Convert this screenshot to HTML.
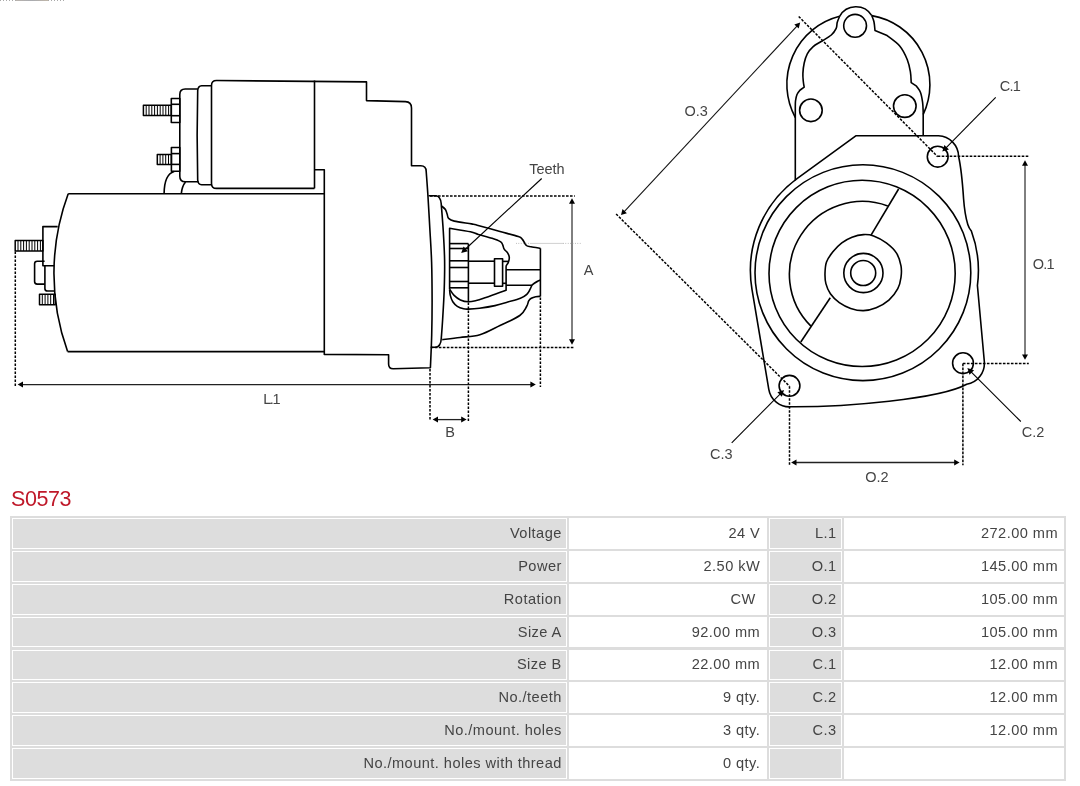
<!DOCTYPE html>
<html><head><meta charset="utf-8"><title>S0573</title>
<style>
html,body{margin:0;padding:0;background:#fff;overflow:hidden;}
body{width:1080px;height:786px;position:relative;overflow:hidden;font-family:"Liberation Sans",sans-serif;}
svg.dw{position:absolute;left:0;top:0;}
svg.dw text{font-family:"Liberation Sans",sans-serif;}
h1{position:absolute;left:11px;top:487px;margin:0;font-weight:normal;font-size:21.5px;line-height:24px;color:#bf1829;letter-spacing:-0.45px;will-change:transform;}
.tb{position:absolute;left:10px;top:516px;width:1056px;height:265px;background:#dddddd;}
.c{position:absolute;border:1px solid #fff;box-sizing:content-box;font-size:14.6px;color:#444;text-align:right;}
.c span{position:absolute;right:6px;top:5.9px;white-space:nowrap;letter-spacing:0.45px;}
.l{background:#dddddd;}
.v{background:#fff;}
.gs{position:absolute;left:0;top:0;width:1080px;height:786px;filter:grayscale(1);}
.art{position:absolute;left:0;top:0;width:64px;height:1px;background:repeating-linear-gradient(90deg,#aaa 0 1px,#fff 1px 3px);}
.art2{position:absolute;left:16px;top:0;width:32px;height:1px;background:linear-gradient(90deg,#b9b3ad,#a9abb0 50%,#c0b6a8);}
</style></head><body>
<div class="art"></div><div class="art2"></div>
<div class="gs">
<svg class="dw" width="1080" height="500" viewBox="0 0 1080 500"><g fill="none" stroke="#000" stroke-linejoin="round">
<path d="M 314.5,188.4 L 216.5,188.4 Q 211.5,188.4 211.5,183.4 L 211.5,85.5 Q 211.5,80.5 216.5,80.5 L 366.5,81.9 L 366.5,100.6 L 405.5,101.6 Q 411.5,101.8 411.5,108 L 411.5,165.8 L 420.8,165.8 Q 426.2,165.9 426.2,171.5 L 426.2,171.5 C 426.48,175.45 427.3,185.78 427.9,195.2 C 428.5,204.62 429.18,216.87 429.8,228 C 430.42,239.13 431.22,250 431.6,262 C 431.98,274 432.08,287.83 432.1,300 C 432.12,312.17 431.98,323.7 431.7,335 C 431.42,346.3 430.62,362.33 430.4,367.8 L 393.2,368.7 Q 388.6,368.7 388.6,364 L 388.6,354.8 L 324.3,354.4 L 324.3,169.8 L 314.5,169.8" stroke-width="1.6"/>
<line x1="314.5" y1="80.5" x2="314.5" y2="188.4" stroke-width="1.6"/>
<path d="M 211.5,85.7 L 201.6,85.7 Q 198,86 197.7,90.5 Q 196.6,135 197.7,180 Q 198,184.6 201.6,184.8 L 211.5,184.8" stroke-width="1.6"/>
<path d="M 197.8,89 L 185.2,89 Q 179.8,89 179.8,94.5 L 179.8,176.2 Q 179.8,181.8 185.2,181.8 L 198.6,181.8" stroke-width="1.6"/>
<rect x="171.3" y="98.5" width="8.5" height="24" stroke-width="1.6"/>
<line x1="171.3" y1="104.3" x2="179.8" y2="104.3" stroke-width="1.6"/>
<line x1="171.3" y1="115.7" x2="179.8" y2="115.7" stroke-width="1.6"/>
<rect x="171.4" y="147.5" width="8.4" height="23.8" stroke-width="1.6"/>
<line x1="171.4" y1="153.6" x2="179.8" y2="153.6" stroke-width="1.6"/>
<line x1="171.4" y1="164.4" x2="179.8" y2="164.4" stroke-width="1.6"/>
<rect x="143.4" y="105.3" width="27.9" height="10.2" stroke-width="1.5"/>
<line x1="146.2" y1="105.3" x2="146.2" y2="115.5" stroke-width="1"/>
<line x1="149" y1="105.3" x2="149" y2="115.5" stroke-width="1"/>
<line x1="151.8" y1="105.3" x2="151.8" y2="115.5" stroke-width="1"/>
<line x1="154.6" y1="105.3" x2="154.6" y2="115.5" stroke-width="1"/>
<line x1="157.4" y1="105.3" x2="157.4" y2="115.5" stroke-width="1"/>
<line x1="160.2" y1="105.3" x2="160.2" y2="115.5" stroke-width="1"/>
<line x1="163" y1="105.3" x2="163" y2="115.5" stroke-width="1"/>
<line x1="165.8" y1="105.3" x2="165.8" y2="115.5" stroke-width="1"/>
<line x1="168.6" y1="105.3" x2="168.6" y2="115.5" stroke-width="1"/>
<rect x="157.3" y="154.4" width="14.1" height="10.2" stroke-width="1.5"/>
<line x1="160.1" y1="154.4" x2="160.1" y2="164.6" stroke-width="1"/>
<line x1="162.9" y1="154.4" x2="162.9" y2="164.6" stroke-width="1"/>
<line x1="165.7" y1="154.4" x2="165.7" y2="164.6" stroke-width="1"/>
<line x1="168.5" y1="154.4" x2="168.5" y2="164.6" stroke-width="1"/>
<path d="M 164.1,193.6 C 164.2,183 166.8,173.5 174.2,171.4" stroke-width="1.6"/>
<path d="M 181.3,193.6 C 181.8,188.5 183,185 185.5,182" stroke-width="1.6"/>
<line x1="68.2" y1="193.8" x2="324.3" y2="193.8" stroke-width="1.6"/>
<line x1="67.6" y1="351.6" x2="324.3" y2="351.6" stroke-width="1.6"/>
<path d="M 68.2,193.8 A 230 230 0 0 0 67.6,351.6" stroke-width="1.6"/>
<path d="M 57.7,226.6 L 42.9,226.6 L 42.9,265.8 L 54.2,265.8" stroke-width="1.6"/>
<path d="M 44.9,265.8 L 44.9,288.4 Q 44.9,291 47.5,291 L 54.8,291" stroke-width="1.6"/>
<path d="M 44.6,261.2 L 37.2,261.2 Q 34.6,261.2 34.6,263.8 L 34.6,281.5 Q 34.6,284.1 37.2,284.1 L 44.9,284.1" stroke-width="1.6"/>
<rect x="15.2" y="240.6" width="27.7" height="10.3" stroke-width="1.5"/>
<line x1="18" y1="240.6" x2="18" y2="250.9" stroke-width="1"/>
<line x1="20.8" y1="240.6" x2="20.8" y2="250.9" stroke-width="1"/>
<line x1="23.6" y1="240.6" x2="23.6" y2="250.9" stroke-width="1"/>
<line x1="26.4" y1="240.6" x2="26.4" y2="250.9" stroke-width="1"/>
<line x1="29.2" y1="240.6" x2="29.2" y2="250.9" stroke-width="1"/>
<line x1="32" y1="240.6" x2="32" y2="250.9" stroke-width="1"/>
<line x1="34.8" y1="240.6" x2="34.8" y2="250.9" stroke-width="1"/>
<line x1="37.6" y1="240.6" x2="37.6" y2="250.9" stroke-width="1"/>
<line x1="40.4" y1="240.6" x2="40.4" y2="250.9" stroke-width="1"/>
<rect x="39.5" y="294.2" width="15.7" height="10.5" stroke-width="1.5"/>
<line x1="42.3" y1="294.2" x2="42.3" y2="304.7" stroke-width="1"/>
<line x1="45.1" y1="294.2" x2="45.1" y2="304.7" stroke-width="1"/>
<line x1="47.9" y1="294.2" x2="47.9" y2="304.7" stroke-width="1"/>
<line x1="50.7" y1="294.2" x2="50.7" y2="304.7" stroke-width="1"/>
<line x1="53.5" y1="294.2" x2="53.5" y2="304.7" stroke-width="1"/>
<path d="M 428.5,195.8 L 436,195.8 Q 440.4,196.3 441.2,203.5 L 441.2,203.5 C 441.53,207.92 442.63,220.58 443.2,230 C 443.77,239.42 444.43,250 444.6,260 C 444.77,270 444.53,280 444.2,290 C 443.87,300 443.08,312 442.6,320 C 442.12,328 441.52,335 441.3,338 Q 441,347.3 435,347.3 L 430.8,347.3" stroke-width="1.6"/>
<path d="M 441.3,205.8 C 441.98,206.42 444.42,208.08 445.4,209.5 C 446.38,210.92 446.67,212.82 447.2,214.3 C 447.73,215.78 447.42,217.27 448.6,218.4 C 449.78,219.53 450.48,220.18 454.3,221.1 C 458.12,222.02 467.68,223.22 471.5,223.9 C 475.32,224.58 472.45,223.93 477.2,225.2 C 481.95,226.47 493.15,229.6 500,231.5 C 506.85,233.4 514.57,235.28 518.3,236.6 C 522.03,237.92 521.05,237.92 522.4,239.4 C 523.75,240.88 524.97,244.27 526.4,245.5 C 527.83,246.73 528.67,246.33 531,246.8 C 533.33,247.27 538.83,248.05 540.4,248.3 " stroke-width="1.6"/>
<line x1="540.4" y1="248.3" x2="540.4" y2="296.5" stroke-width="1.6"/>
<path d="M 540.4,296.4 C 539.62,296.45 537.22,296.38 535.7,296.7 C 534.18,297.02 532.47,297.6 531.3,298.3 C 530.13,299 529.48,299.53 528.7,300.9 C 527.92,302.27 528.08,304.07 526.6,306.5 C 525.12,308.93 524.23,312.33 519.8,315.5 C 515.37,318.67 506.65,322.3 500,325.5 C 493.35,328.7 486.57,332.7 479.9,334.7 C 473.23,336.7 466.28,336.68 460,337.5 C 453.72,338.32 445.17,339.25 442.2,339.6 " stroke-width="1.6"/>
<path d="M 449.6,289.1 L 449.6,228.3 L 449.6,228.3 C 453.07,228.88 465.62,230.78 470.4,231.8 C 475.18,232.82 474.68,233.32 478.3,234.4 C 481.92,235.48 488.43,237.1 492.1,238.3 C 495.77,239.5 498.55,240.55 500.3,241.6 C 502.05,242.65 501.95,243.33 502.6,244.6 C 503.25,245.87 503.37,247.83 504.2,249.2 C 505.03,250.57 506.75,251.42 507.6,252.8 C 508.45,254.18 509.18,255.9 509.3,257.5 C 509.42,259.1 508.8,261.07 508.3,262.4 C 507.8,263.73 506.67,264.48 506.3,265.5 C 505.93,266.52 506.13,268 506.1,268.5 L 506.1,290.3 L 506.1,290.3 C 504.25,290.95 498.37,293.02 495,294.2 C 491.63,295.38 489.02,296.35 485.9,297.4 C 482.78,298.45 479.22,299.77 476.3,300.5 C 473.38,301.23 471.05,301.9 468.4,301.8 C 465.75,301.7 462.78,300.97 460.4,299.9 C 458.02,298.83 455.9,297.2 454.1,295.4 C 452.3,293.6 450.35,290.15 449.6,289.1 " stroke-width="1.6"/>
<path d="M 449.6,289.5 C 449.72,290.48 449.77,293.35 450.3,295.4 C 450.83,297.45 451.63,299.98 452.8,301.8 C 453.97,303.62 455.5,305.13 457.3,306.3 C 459.1,307.47 461.75,308.33 463.6,308.8 C 465.45,309.27 465.75,309.2 468.4,309.1 C 471.05,309 475.07,308.78 479.5,308.2 C 483.93,307.62 490.3,306.62 495,305.6 C 499.7,304.58 503.47,303.32 507.7,302.1 C 511.93,300.88 517.22,299.58 520.4,298.3 C 523.58,297.02 525.2,295.88 526.8,294.4 C 528.4,292.92 529.15,290.93 530,289.4 C 530.85,287.87 531.58,285.9 531.9,285.2 " stroke-width="1.6"/>
<line x1="468.4" y1="243.6" x2="468.4" y2="301.6" stroke-width="1.6"/>
<line x1="449.6" y1="243.6" x2="468.4" y2="243.6" stroke-width="1.6"/>
<line x1="449.6" y1="248.5" x2="468.4" y2="248.5" stroke-width="1.6"/>
<line x1="449.6" y1="260.8" x2="468.4" y2="260.8" stroke-width="1.6"/>
<line x1="449.6" y1="267.5" x2="468.4" y2="267.5" stroke-width="1.6"/>
<line x1="449.6" y1="281.5" x2="468.4" y2="281.5" stroke-width="1.6"/>
<line x1="449.6" y1="287.8" x2="468.4" y2="287.8" stroke-width="1.6"/>
<line x1="468.4" y1="261.2" x2="494.5" y2="261.2" stroke-width="1.6"/>
<line x1="468.4" y1="283.2" x2="494.5" y2="283.2" stroke-width="1.6"/>
<rect x="494.5" y="258.7" width="8.1" height="27.5" stroke-width="1.6"/>
<line x1="502.6" y1="261.4" x2="508.2" y2="261.4" stroke-width="1.6"/>
<line x1="502.6" y1="283.3" x2="506.1" y2="283.3" stroke-width="1.6"/>
<line x1="506.1" y1="269.8" x2="540.4" y2="269.8" stroke-width="1.6"/>
<path d="M 506.1,285.2 L 531.9,285.2 C 534.5,283 537.5,280.8 540.4,280.1" stroke-width="1.6"/>
<line x1="15.3" y1="251.5" x2="15.3" y2="387.5" stroke-width="1.5" stroke-dasharray="2.6 1.4"/>
<line x1="540.4" y1="297.5" x2="540.4" y2="387" stroke-width="1.5" stroke-dasharray="2.6 1.4"/>
<line x1="22" y1="384.6" x2="531.4" y2="384.6" stroke="#222" stroke-width="1.3"/>
<path d="M 535.8,384.6 L 530.4,387.6 L 530.4,381.6 Z" fill="#000" stroke="none"/>
<path d="M 17.6,384.6 L 23,381.6 L 23,387.6 Z" fill="#000" stroke="none"/>
<line x1="430" y1="195.9" x2="574.8" y2="195.9" stroke-width="1.5" stroke-dasharray="2.6 1.4"/>
<line x1="430.8" y1="347.5" x2="574.6" y2="347.5" stroke-width="1.5" stroke-dasharray="2.6 1.4"/>
<line x1="572" y1="202.7" x2="572" y2="340.3" stroke="#000" stroke-width="1"/>
<path d="M 572,344.7 L 569,339.3 L 575,339.3 Z" fill="#000" stroke="none"/>
<path d="M 572,198.3 L 575,203.7 L 569,203.7 Z" fill="#000" stroke="none"/>
<line x1="430" y1="369" x2="430" y2="421" stroke-width="1.5" stroke-dasharray="2.6 1.4"/>
<line x1="468.4" y1="302.5" x2="468.4" y2="421" stroke-width="1.5" stroke-dasharray="2.6 1.4"/>
<line x1="437" y1="419.6" x2="462.2" y2="419.6" stroke="#222" stroke-width="1.3"/>
<path d="M 466.6,419.6 L 461.2,422.6 L 461.2,416.6 Z" fill="#000" stroke="none"/>
<path d="M 432.6,419.6 L 438,416.6 L 438,422.6 Z" fill="#000" stroke="none"/>
<path d="M 541.7,178.5 L 465,249.5" stroke-width="1.1"/>
<path d="M 461.2,253.1 L 463.57,246.54 L 467.92,251.23 Z" fill="#000" stroke="none"/>
<line x1="516" y1="243.4" x2="531" y2="243.4" stroke-width="0.8" stroke="#999" stroke-dasharray="0.8 1.6"/>
<line x1="531" y1="243.4" x2="563" y2="243.4" stroke-width="0.8" stroke="#c4c4cc"/>
<line x1="563" y1="243.4" x2="582" y2="243.4" stroke-width="0.8" stroke="#999" stroke-dasharray="0.8 1.6"/>
<text x="529.2" y="174" font-size="14.5" fill="#444" stroke="none" text-anchor="start" letter-spacing="0">Teeth</text>
<text x="583.8" y="275" font-size="14.5" fill="#444" stroke="none" text-anchor="start" letter-spacing="0">A</text>
<text x="445.2" y="436.5" font-size="14.5" fill="#444" stroke="none" text-anchor="start" letter-spacing="0">B</text>
<text x="263.2" y="404.3" font-size="14.5" fill="#444" stroke="none" text-anchor="start" letter-spacing="-1.4">L.1</text>
<path d="M 795.3,117.5 A 70 70 0 0 1 839.6,16.3" stroke-width="1.6"/>
<path d="M 871.8,15.6 A 70 70 0 0 1 923.2,114.5" stroke-width="1.6"/>
<path d="M 839.6,16.3 A 18.7 18.7 0 0 1 871.8,15.6" stroke-width="1.6"/>
<path d="M 839.6,16.3 C 839.2,17.33 837.77,20.48 837.2,22.5 C 836.63,24.52 837.18,26.32 836.2,28.4 C 835.22,30.48 833.8,32.82 831.3,35 C 828.8,37.18 824.22,39.57 821.2,41.5 C 818.18,43.43 815.52,44.55 813.2,46.6 C 810.88,48.65 808.8,51.07 807.3,53.8 C 805.8,56.53 804.93,59.73 804.2,63 C 803.47,66.27 803.05,70.32 802.9,73.4 C 802.75,76.48 803.08,79.2 803.3,81.5 C 803.52,83.8 804.05,86.25 804.2,87.2 L 800.2,90 L 800.2,90 C 799.67,90.75 797.78,92.67 797,94.5 C 796.22,96.33 795.78,98.75 795.5,101 C 795.22,103.25 795.33,106.83 795.3,108 L 795.3,180.6" stroke-width="1.6"/>
<path d="M 871.8,15.6 C 872.17,16.67 873.47,19.52 874,22 C 874.53,24.48 874.83,29.08 875,30.5 L 886.5,35.2 L 886.5,35.2 C 888.7,37 896.23,41.92 899.7,46 C 903.17,50.08 905.52,55.38 907.3,59.7 C 909.08,64.02 909.75,68.08 910.4,71.9 C 911.05,75.72 911.07,80.82 911.2,82.6 L 916.5,86.2 L 916.5,86.2 C 917.17,87.25 919.48,89.8 920.5,92.5 C 921.52,95.2 922.15,99.15 922.6,102.4 C 923.05,105.65 923.1,110.4 923.2,112 L 923.2,136" stroke-width="1.6"/>
<circle cx="855.1" cy="25.8" r="11.4" stroke-width="1.6"/>
<circle cx="810.9" cy="110.3" r="11.3" stroke-width="1.6"/>
<circle cx="904.8" cy="106.1" r="11.3" stroke-width="1.6"/>
<path d="M 855.8,135.8 L 938.5,135.8 A 21 21 0 0 1 958.6,156.5 C 961.2,168 962.6,184 963.6,199 C 964.4,210 965.8,218 967.8,224.4 Q 968.9,228 971.34,231 A 114 114 0 0 1 977.41,285.5 L 984.31,361.26 A 21.4 21.4 0 0 1 966.65,384.29 C 939.7,399.2 845.2,407.1 791,406.8 A 21 21 0 0 1 768.79,389.29 L 751.98,289.42 A 114 114 0 0 1 797.35,178.3 Z" stroke-width="1.6"/>
<circle cx="862.9" cy="272.7" r="107.9" stroke-width="1.6"/>
<circle cx="862.1" cy="273.4" r="93.1" stroke-width="1.6"/>
<line x1="898.6" y1="189" x2="870.9" y2="235.3" stroke-width="1.6"/>
<line x1="830.3" y1="297.8" x2="800.8" y2="342" stroke-width="1.6"/>
<path d="M 887.77,205.95 A 73 73 0 0 0 810.92,326.16" stroke-width="1.6"/>
<path d="M 825,273.4 C 825.1,269.8 825.18,265.6 826.5,262 C 827.82,258.4 830.35,254.98 832.9,251.8 C 835.45,248.62 838.62,245.33 841.8,242.9 C 844.98,240.47 848.4,238.58 852,237.2 C 855.6,235.82 859.8,234.82 863.4,234.6 C 867,234.38 869.78,234.52 873.6,235.9 C 877.42,237.28 882.48,240.03 886.3,242.9 C 890.12,245.77 894.05,249.28 896.5,253.1 C 898.95,256.92 900.25,261.77 901,265.8 C 901.75,269.83 901.53,273.48 901,277.3 C 900.47,281.12 899.82,284.88 897.8,288.7 C 895.78,292.52 892.5,297.02 888.9,300.2 C 885.3,303.38 880.45,306.07 876.2,307.8 C 871.95,309.53 867.65,310.5 863.4,310.6 C 859.15,310.7 854.72,309.72 850.7,308.4 C 846.68,307.08 842.68,305.13 839.3,302.7 C 835.92,300.27 832.63,296.98 830.4,293.8 C 828.17,290.62 826.8,287 825.9,283.6 C 825,280.2 824.9,277 825,273.4 Z" stroke-width="1.6"/>
<circle cx="863.4" cy="273" r="19.6" stroke-width="1.6"/>
<circle cx="863.2" cy="273" r="12.5" stroke-width="1.6"/>
<circle cx="937.7" cy="156.7" r="10.4" stroke-width="1.6"/>
<circle cx="963" cy="363.2" r="10.4" stroke-width="1.6"/>
<circle cx="789.5" cy="385.8" r="10.4" stroke-width="1.6"/>
<line x1="798.7" y1="16.5" x2="937.7" y2="156.7" stroke-width="1.5" stroke-dasharray="2.6 1.4"/>
<line x1="616.1" y1="214" x2="789.5" y2="386.2" stroke-width="1.5" stroke-dasharray="2.6 1.4"/>
<line x1="624" y1="211.88" x2="797.2" y2="25.82" stroke="#111" stroke-width="1.1"/>
<path d="M 800.2,22.6 L 798.72,28.6 L 794.32,24.51 Z" fill="#000" stroke="none"/>
<path d="M 621,215.1 L 622.48,209.1 L 626.88,213.19 Z" fill="#000" stroke="none"/>
<line x1="937.7" y1="156.3" x2="1028.6" y2="156.3" stroke-width="1.5" stroke-dasharray="2.6 1.4"/>
<line x1="962.9" y1="363.6" x2="1028.8" y2="363.6" stroke-width="1.5" stroke-dasharray="2.6 1.4"/>
<line x1="1025" y1="164.7" x2="1025" y2="355.4" stroke="#000" stroke-width="1"/>
<path d="M 1025,359.8 L 1022,354.4 L 1028,354.4 Z" fill="#000" stroke="none"/>
<path d="M 1025,160.3 L 1028,165.7 L 1022,165.7 Z" fill="#000" stroke="none"/>
<line x1="789.5" y1="386.2" x2="789.5" y2="465.3" stroke-width="1.5" stroke-dasharray="2.6 1.4"/>
<line x1="962.9" y1="363.6" x2="962.9" y2="465.3" stroke-width="1.5" stroke-dasharray="2.6 1.4"/>
<line x1="795.5" y1="462.5" x2="955.2" y2="462.5" stroke="#222" stroke-width="1.3"/>
<path d="M 959.6,462.5 L 954.2,465.5 L 954.2,459.5 Z" fill="#000" stroke="none"/>
<path d="M 791.1,462.5 L 796.5,459.5 L 796.5,465.5 Z" fill="#000" stroke="none"/>
<path d="M 995.7,97.4 L 945.5,148.3" stroke-width="1.1"/>
<path d="M 942.3,151.6 L 944.37,144.94 L 948.93,149.43 Z" fill="#000" stroke="none"/>
<path d="M 1020.8,421.5 L 970.6,371.3" stroke-width="1.1"/>
<path d="M 967.4,368.1 L 974.05,370.22 L 969.52,374.75 Z" fill="#000" stroke="none"/>
<path d="M 731.7,442.9 L 780.8,393.3" stroke-width="1.1"/>
<path d="M 784,390 L 781.92,396.66 L 777.37,392.16 Z" fill="#000" stroke="none"/>
<text x="684.5" y="116" font-size="14.5" fill="#444" stroke="none" text-anchor="start" letter-spacing="0">O.3</text>
<text x="999.8" y="90.9" font-size="14.5" fill="#444" stroke="none" text-anchor="start" letter-spacing="-0.8">C.1</text>
<text x="1032.8" y="269.4" font-size="14.5" fill="#444" stroke="none" text-anchor="start" letter-spacing="-0.8">O.1</text>
<text x="1021.8" y="437" font-size="14.5" fill="#444" stroke="none" text-anchor="start" letter-spacing="0">C.2</text>
<text x="710" y="458.7" font-size="14.5" fill="#444" stroke="none" text-anchor="start" letter-spacing="0">C.3</text>
<text x="865.2" y="482.2" font-size="14.5" fill="#444" stroke="none" text-anchor="start" letter-spacing="0">O.2</text>
</g></svg>
<div class="tb"></div>
<div class="c l" style="left:12px;top:518px;width:553px;height:28.88px"><span style="right:4.2px">Voltage</span></div>
<div class="c v" style="left:569px;top:518px;width:196px;height:28.88px"><span style="right:5.8px">24 V</span></div>
<div class="c l" style="left:769px;top:518px;width:71px;height:28.88px"><span style="right:4.4px">L.1</span></div>
<div class="c v" style="left:844px;top:518px;width:218px;height:28.88px"><span style="right:5px">272.00 mm</span></div>
<div class="c l" style="left:12px;top:550.88px;width:553px;height:28.88px"><span style="right:4.2px">Power</span></div>
<div class="c v" style="left:569px;top:550.88px;width:196px;height:28.88px"><span style="right:5.8px">2.50 kW</span></div>
<div class="c l" style="left:769px;top:550.88px;width:71px;height:28.88px"><span style="right:4.4px">O.1</span></div>
<div class="c v" style="left:844px;top:550.88px;width:218px;height:28.88px"><span style="right:5px">145.00 mm</span></div>
<div class="c l" style="left:12px;top:583.75px;width:553px;height:28.88px"><span style="right:4.2px">Rotation</span></div>
<div class="c v" style="left:569px;top:583.75px;width:196px;height:28.88px"><span style="right:5.8px">CW&nbsp;</span></div>
<div class="c l" style="left:769px;top:583.75px;width:71px;height:28.88px"><span style="right:4.4px">O.2</span></div>
<div class="c v" style="left:844px;top:583.75px;width:218px;height:28.88px"><span style="right:5px">105.00 mm</span></div>
<div class="c l" style="left:12px;top:616.62px;width:553px;height:28.88px"><span style="right:4.2px">Size A</span></div>
<div class="c v" style="left:569px;top:616.62px;width:196px;height:28.88px"><span style="right:5.8px">92.00 mm</span></div>
<div class="c l" style="left:769px;top:616.62px;width:71px;height:28.88px"><span style="right:4.4px">O.3</span></div>
<div class="c v" style="left:844px;top:616.62px;width:218px;height:28.88px"><span style="right:5px">105.00 mm</span></div>
<div class="c l" style="left:12px;top:649.5px;width:553px;height:28.88px"><span style="right:4.2px">Size B</span></div>
<div class="c v" style="left:569px;top:649.5px;width:196px;height:28.88px"><span style="right:5.8px">22.00 mm</span></div>
<div class="c l" style="left:769px;top:649.5px;width:71px;height:28.88px"><span style="right:4.4px">C.1</span></div>
<div class="c v" style="left:844px;top:649.5px;width:218px;height:28.88px"><span style="right:5px">12.00 mm</span></div>
<div class="c l" style="left:12px;top:682.38px;width:553px;height:28.88px"><span style="right:4.2px">No./teeth</span></div>
<div class="c v" style="left:569px;top:682.38px;width:196px;height:28.88px"><span style="right:5.8px">9 qty.</span></div>
<div class="c l" style="left:769px;top:682.38px;width:71px;height:28.88px"><span style="right:4.4px">C.2</span></div>
<div class="c v" style="left:844px;top:682.38px;width:218px;height:28.88px"><span style="right:5px">12.00 mm</span></div>
<div class="c l" style="left:12px;top:715.25px;width:553px;height:28.88px"><span style="right:4.2px">No./mount. holes</span></div>
<div class="c v" style="left:569px;top:715.25px;width:196px;height:28.88px"><span style="right:5.8px">3 qty.</span></div>
<div class="c l" style="left:769px;top:715.25px;width:71px;height:28.88px"><span style="right:4.4px">C.3</span></div>
<div class="c v" style="left:844px;top:715.25px;width:218px;height:28.88px"><span style="right:5px">12.00 mm</span></div>
<div class="c l" style="left:12px;top:748.12px;width:553px;height:28.88px"><span style="right:4.2px">No./mount. holes with thread</span></div>
<div class="c v" style="left:569px;top:748.12px;width:196px;height:28.88px"><span style="right:5.8px">0 qty.</span></div>
<div class="c l" style="left:769px;top:748.12px;width:71px;height:28.88px"><span style="right:4.4px"></span></div>
<div class="c v" style="left:844px;top:748.12px;width:218px;height:28.88px"><span style="right:5px"></span></div>
</div>
<h1>S0573</h1>
</body></html>
